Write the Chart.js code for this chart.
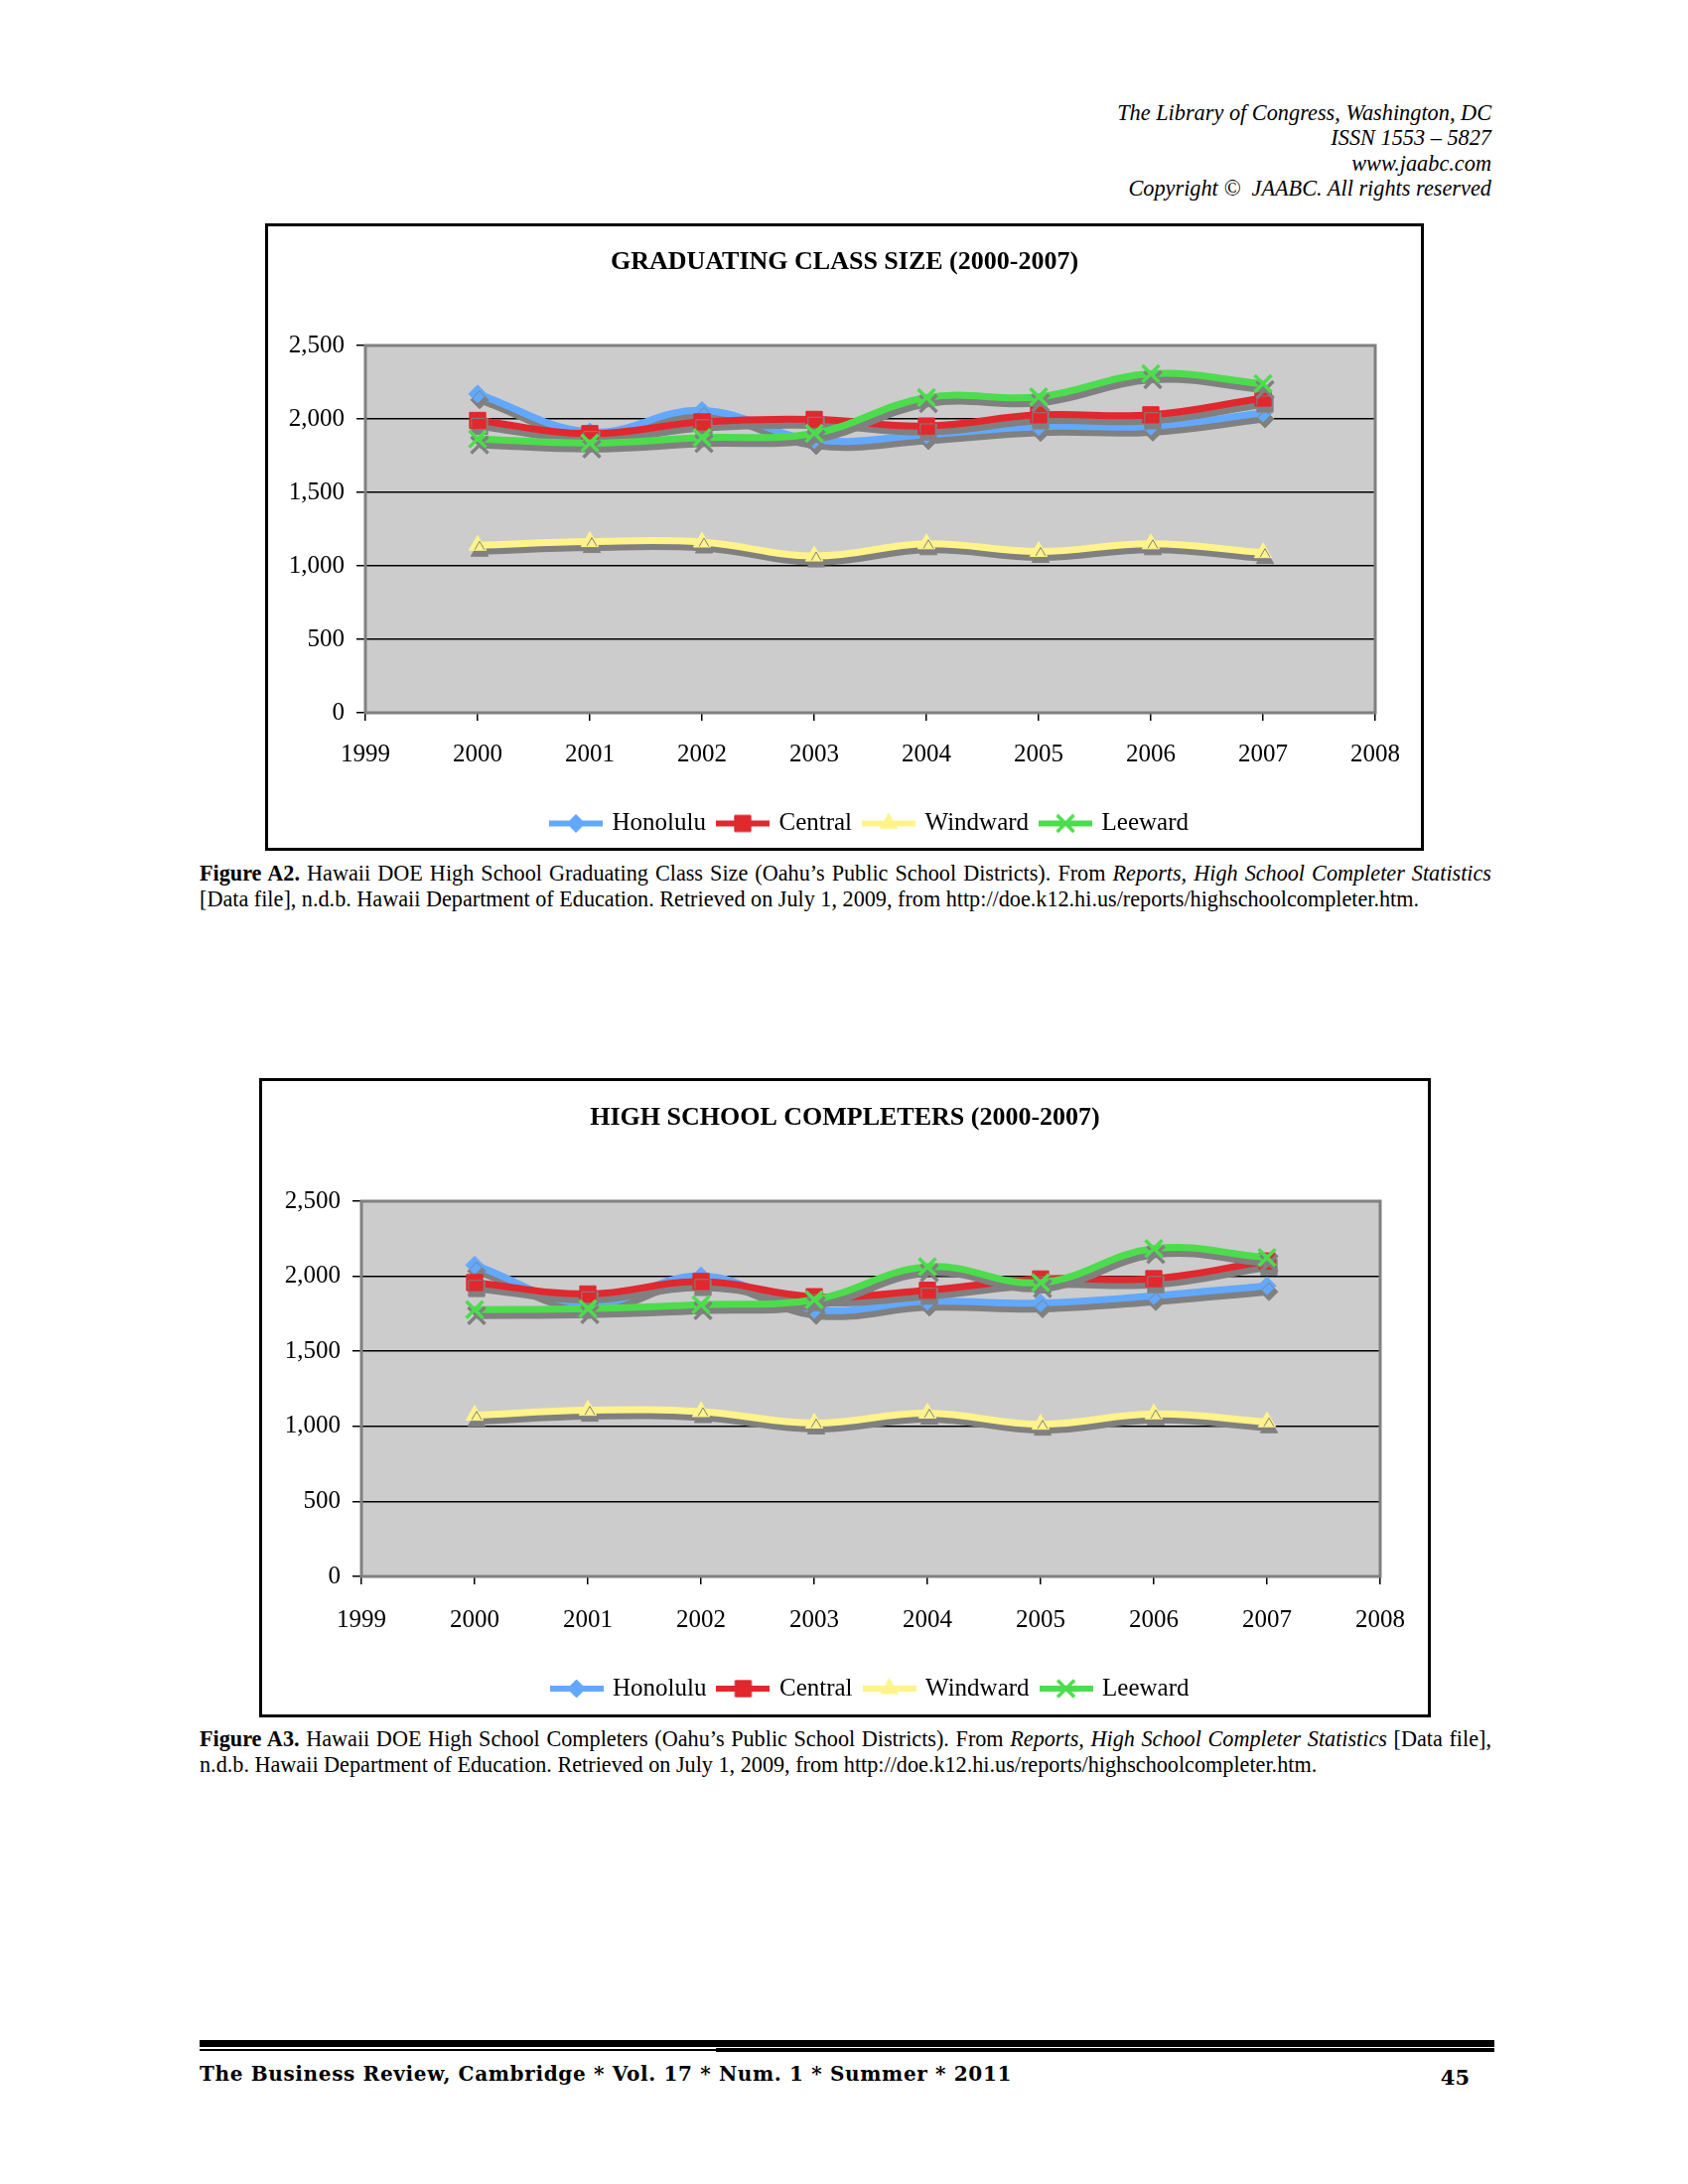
<!DOCTYPE html>
<html><head><meta charset="utf-8">
<script src="https://cdn.jsdelivr.net/npm/chart.js@4.4.0/dist/chart.umd.min.js"></script>
<style>
html,body{margin:0;padding:0;background:#fff;}
body{width:1700px;height:2200px;position:relative;overflow:hidden;font-family:"Liberation Serif",serif;color:#000;}
.hdr{position:absolute;right:198px;top:101px;text-align:right;font-style:italic;font-size:22.3px;line-height:25.3px;white-space:nowrap;}
.frame{position:absolute;border:3px solid #000;box-sizing:border-box;background:#fff;}
.frame canvas{position:absolute;left:0;top:0;}
.cap{position:absolute;left:201px;width:1301px;font-size:22.2px;line-height:25.5px;}
.cap .l1{text-align:justify;text-align-last:justify;}
.bar{position:absolute;background:#000;}
.foot{position:absolute;left:201px;top:2075px;font-family:"DejaVu Serif",serif;font-weight:bold;font-size:20px;letter-spacing:0.65px;line-height:28px;white-space:nowrap;}
.pg{position:absolute;right:220px;top:2078px;font-family:"DejaVu Serif",serif;font-weight:bold;font-size:21px;line-height:30px;}
</style>
</head><body>
<div class="hdr">The Library of Congress, Washington, DC<br>ISSN 1553 – 5827<br>www.jaabc.com<br>Copyright ©&nbsp; JAABC. All rights reserved</div>

<div class="frame" style="left:267px;top:225px;width:1167px;height:632px;"><canvas id="c1" width="1161" height="626"></canvas></div>
<div class="cap" style="top:867px"><div class="l1"><b>Figure A2.</b> Hawaii DOE High School Graduating Class Size (Oahu’s Public School Districts). From <i>Reports, High School Completer Statistics</i></div><div>[Data file], n.d.b. Hawaii Department of Education. Retrieved on July 1, 2009, from http://doe.k12.hi.us/reports/highschoolcompleter.htm.</div></div>

<div class="frame" style="left:261px;top:1086px;width:1180px;height:644px;"><canvas id="c2" width="1174" height="638"></canvas></div>
<div class="cap" style="top:1739px"><div class="l1"><b>Figure A3.</b> Hawaii DOE High School Completers (Oahu’s Public School Districts). From <i>Reports, High School Completer Statistics</i> [Data file],</div><div>n.d.b. Hawaii Department of Education. Retrieved on July 1, 2009, from http://doe.k12.hi.us/reports/highschoolcompleter.htm.</div></div>

<div class="bar" style="left:201px;top:2055px;width:1304px;height:7px;"></div>
<div class="bar" style="left:201px;top:2064px;width:520px;height:2px;"></div>
<div class="bar" style="left:721px;top:2063px;width:784px;height:4px;"></div>
<div class="foot">The Business Review, Cambridge * Vol. 17 * Num. 1 * Summer * 2011</div>
<div class="pg">45</div>

<script>
// ---- data ----
const years = [2000, 2001, 2002, 2003, 2004, 2005, 2006, 2007];
const xTickValues = [1999, 2000, 2001, 2002, 2003, 2004, 2005, 2006, 2007, 2008];
const yTickValues = [0, 500, 1000, 1500, 2000, 2500];
const seriesNames = ['Honolulu', 'Central', 'Windward', 'Leeward'];

const gradTitle = 'GRADUATING CLASS SIZE (2000-2007)';
const gradHonolulu = [2170, 1912, 2058, 1858, 1892, 1948, 1950, 2040];
const gradCentral  = [1990, 1900, 1980, 1997, 1952, 2028, 2028, 2142];
const gradWindward = [1140, 1165, 1162, 1067, 1150, 1098, 1150, 1090];
const gradLeeward  = [1864, 1836, 1873, 1902, 2145, 2150, 2307, 2240];

const complTitle = 'HIGH SCHOOL COMPLETERS (2000-2007)';
const complHonolulu = [2074, 1815, 2002, 1778, 1833, 1822, 1870, 1936];
const complCentral  = [1958, 1882, 1965, 1864, 1907, 1982, 1984, 2102];
const complWindward = [1074, 1107, 1098, 1022, 1088, 1014, 1083, 1030];
const complLeeward  = [1778, 1784, 1811, 1844, 2063, 1958, 2184, 2125];

// ---- styles ----
const styles = [
  {color: '#62A8FF', point: 'rectRot', r: 9, bw: 1, order: 4},
  {color: '#E0282E', point: 'rect', r: 11.5, bw: 1, order: 3},
  {color: '#FFF38A', point: 'triangle', r: 10, bw: 1, order: 2},
  {color: '#4CDD4C', point: 'crossRot', r: 12, bw: 3.5, order: 1}
];

Chart.defaults.font.family = '"Liberation Serif", "Times New Roman", serif';
Chart.defaults.color = '#000';

function legendIcon(st) {
  const c = document.createElement('canvas');
  c.width = 54; c.height = 26;
  const g = c.getContext('2d');
  g.strokeStyle = st.color; g.fillStyle = st.color;
  g.lineWidth = 6;
  g.beginPath(); g.moveTo(0, 13); g.lineTo(54, 13); g.stroke();
  g.lineWidth = st.bw;
  Chart.helpers.drawPoint(g, {pointStyle: st.point, radius: st.r, borderWidth: st.bw, rotation: 0}, 27, 13);
  return c;
}
const icons = styles.map(legendIcon);

const plotPlugin = {
  id: 'plotDecor',
  afterLayout(chart) {
    const t = chart.titleBlock;
    if (t) { t.left = 0; t.right = chart.width; t.width = chart.width; }
  },
  beforeDraw(chart) {
    const {ctx, chartArea: a} = chart;
    ctx.save();
    ctx.fillStyle = '#fff';
    ctx.fillRect(0, 0, chart.width, chart.height);
    ctx.fillStyle = '#CCCCCC';
    ctx.fillRect(a.left, a.top, a.right - a.left, a.bottom - a.top);
    ctx.restore();
  },
  beforeDatasetsDraw(chart) {
    const {ctx, chartArea: a} = chart;
    ctx.save();
    ctx.strokeStyle = '#808080';
    ctx.lineWidth = 3;
    ctx.strokeRect(a.left, a.top, a.right - a.left, a.bottom - a.top);
    ctx.restore();
  },
  beforeDatasetDraw(chart) {
    const ctx = chart.ctx;
    ctx.save();
    ctx.shadowColor = '#808080';
    ctx.shadowOffsetX = 2;
    ctx.shadowOffsetY = 6;
    ctx.shadowBlur = 0;
  },
  afterDatasetDraw(chart) {
    chart.ctx.restore();
  }
};

function makeChart(id, title, seriesList, lay) {
  const datasets = seriesList.map((vals, i) => {
    const st = styles[i];
    return {
      label: seriesNames[i],
      data: years.map((x, k) => ({x: x, y: vals[k]})),
      borderColor: st.color,
      backgroundColor: st.color,
      borderWidth: 7,
      tension: 0.4,
      fill: false,
      pointStyle: st.point,
      pointRadius: st.r,
      pointHoverRadius: st.r,
      pointBorderWidth: st.bw,
      pointBackgroundColor: st.color,
      pointBorderColor: st.color,
      order: st.order
    };
  });
  return new Chart(document.getElementById(id), {
    type: 'line',
    data: {datasets},
    plugins: [plotPlugin],
    options: {
      responsive: false,
      animation: false,
      devicePixelRatio: 1,
      layout: {padding: {left: 0, right: lay.right, top: 0, bottom: lay.bottom}},
      plugins: {
        tooltip: {enabled: false},
        title: {
          display: true, text: title, color: '#000',
          font: {size: 26, weight: 'bold', lineHeight: 1.2},
          padding: {top: lay.titleTop, bottom: lay.titleBottom}
        },
        legend: {
          position: 'bottom', fullSize: false,
          labels: {
            usePointStyle: true, pointStyleWidth: 48, padding: 13,
            font: {size: 25}, color: '#000',
            generateLabels: (ch) => ch.data.datasets.map((ds, i) => ({
              text: ds.label, pointStyle: icons[i], fillStyle: ds.borderColor,
              strokeStyle: ds.borderColor, lineWidth: 0, hidden: false,
              datasetIndex: i, fontColor: '#000'
            }))
          }
        }
      },
      scales: {
        x: {
          type: 'linear', min: xTickValues[0], max: xTickValues[xTickValues.length - 1],
          afterBuildTicks: (s) => { s.ticks = xTickValues.map(v => ({value: v})); },
          afterFit: (s) => { s.height = lay.xHeight; },
          grid: {drawOnChartArea: false, drawTicks: true, tickLength: 8, color: '#000', lineWidth: 1.5},
          border: {display: false},
          ticks: {padding: lay.xPad, font: {size: 25}, color: '#000', maxRotation: 0, autoSkip: false,
                  callback: (v) => String(v)}
        },
        y: {
          type: 'linear', min: yTickValues[0], max: yTickValues[yTickValues.length - 1],
          afterBuildTicks: (s) => { s.ticks = yTickValues.map(v => ({value: v})); },
          afterFit: (s) => { s.width = lay.yWidth; },
          grid: {drawOnChartArea: true, drawTicks: true, tickLength: 9, color: '#000', lineWidth: 1.5},
          border: {display: false},
          ticks: {padding: 12, font: {size: 25}, color: '#000',
                  callback: (v) => Number(v).toLocaleString('en-US')}
        }
      }
    }
  });
}

makeChart('c1', gradTitle, [gradHonolulu, gradCentral, gradWindward, gradLeeward],
  {right: 46, bottom: 2, titleTop: 20.4, titleBottom: 68.4, xHeight: 86, xPad: 19, yWidth: 98});
makeChart('c2', complTitle, [complHonolulu, complCentral, complWindward, complLeeward],
  {right: 48, bottom: 3.5, titleTop: 21.4, titleBottom: 68.4, xHeight: 87.5, xPad: 21, yWidth: 100});
</script>
</body></html>
